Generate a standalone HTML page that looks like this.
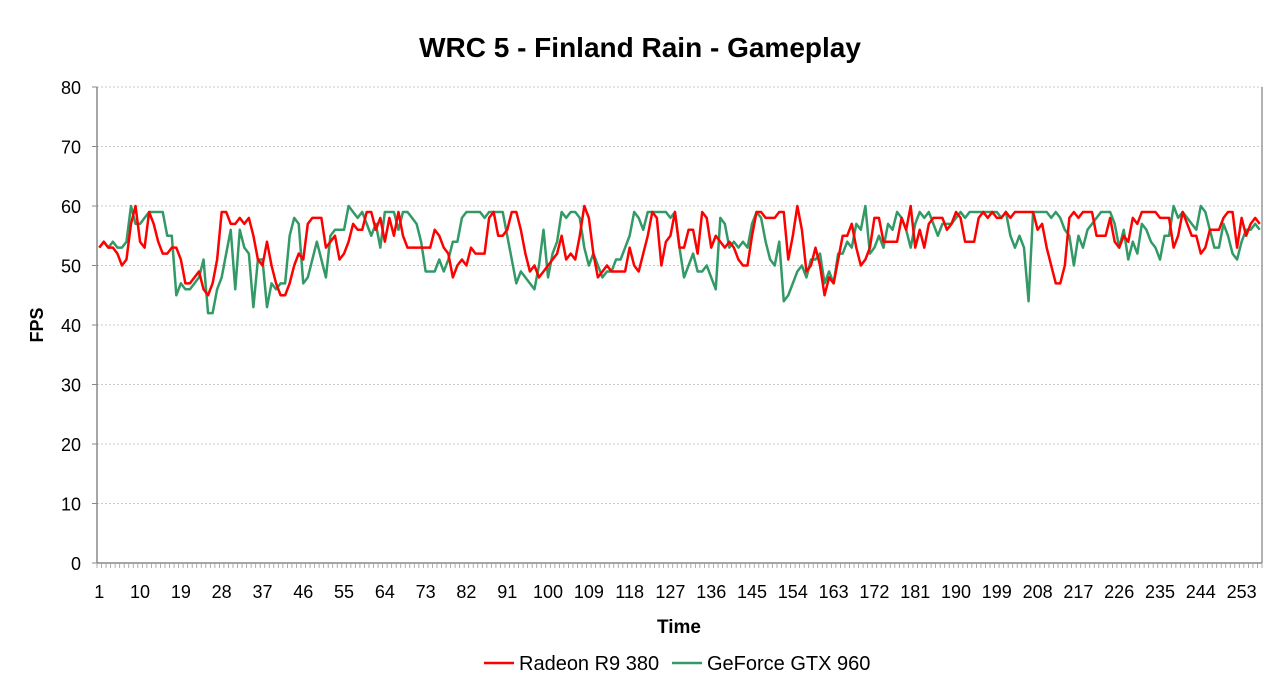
<!DOCTYPE html>
<html><head><meta charset="utf-8"><style>
html,body{margin:0;padding:0;background:#fff;}
svg{display:block;font-family:"Liberation Sans",Arial,sans-serif;}
</style></head><body>
<svg id="chart" width="1280" height="700">
<text x="640" y="57" text-anchor="middle" font-size="28" font-weight="bold">WRC 5 - Finland Rain - Gameplay</text>
<text transform="translate(43,325) rotate(-90)" text-anchor="middle" font-size="18" font-weight="bold">FPS</text>
<text x="679" y="633" text-anchor="middle" font-size="19" font-weight="bold">Time</text>
<g id="grid"></g><g id="yt"></g><g id="xt"></g><g id="series"></g>
<g>
<line x1="484" y1="663" x2="514" y2="663" stroke="#ff0000" stroke-width="2.5"/>
<text x="519" y="670" font-size="20">Radeon R9 380</text>
<line x1="672" y1="663" x2="702" y2="663" stroke="#339966" stroke-width="2.5"/>
<text x="707" y="670" font-size="20">GeForce GTX 960</text>
</g>
</svg>
<script>
const radeon=[53,54,53,53,52,50,51,57,60,54,
53,59,57,54,52,52,53,53,51,
47,47,48,49,46,45,47,51,59,59,
57,57,58,57,58,55,51,50,54,
50,47,45,45,47,50,52,51,57,
58,58,58,53,54,55,51,52,54,
57,56,56,59,59,56,58,54,58,
55,59,55,53,53,53,53,53,53,
56,55,53,52,48,50,51,50,53,
52,52,52,58,59,55,55,56,59,
59,56,52,49,50,48,49,50,51,
52,55,51,52,51,55,60,58,52,
48,49,50,49,49,49,49,53,50,
49,52,55,59,58,50,54,55,59,
53,53,56,56,52,59,58,53,55,
54,53,54,53,51,50,50,55,59,
59,58,58,58,59,59,51,55,60,
56,49,50,53,50,45,48,47,51,
55,55,57,53,50,51,53,58,58,
54,54,54,54,58,56,60,53,56,
53,57,58,58,58,56,57,59,58,
54,54,54,58,59,58,59,58,58,
59,58,59,59,59,59,59,56,57,
53,50,47,47,50,58,59,58,59,
59,59,55,55,55,58,54,53,55,
54,58,57,59,59,59,59,58,58,
58,53,55,59,57,55,55,52,53,
56,56,56,58,59,59,53,58,55,
57,58,57];
const geforce=[53,54,53,54,53,53,54,60,57,57,
58,59,59,59,59,55,55,45,47,
46,46,47,48,51,42,42,46,48,52,
56,46,56,53,52,43,51,51,43,
47,46,47,47,55,58,57,47,48,
51,54,51,48,55,56,56,56,60,
59,58,59,57,55,57,53,59,59,
59,56,59,59,58,57,54,49,49,
49,51,49,51,54,54,58,59,59,
59,59,58,59,59,59,59,55,51,
47,49,48,47,46,50,56,48,52,
54,59,58,59,59,58,53,50,52,
50,48,49,49,51,51,53,55,59,
58,56,59,59,59,59,59,58,59,
53,48,50,52,49,49,50,48,46,
58,57,53,54,53,54,53,57,59,
58,54,51,50,54,44,45,47,49,
50,48,51,51,52,47,49,47,52,
52,54,53,57,56,60,52,53,55,
53,57,56,59,58,56,53,57,59,
58,59,57,55,57,57,57,58,59,
58,59,59,59,59,59,59,59,58,
59,55,53,55,53,44,59,59,59,
59,58,59,58,56,55,50,55,53,
56,57,58,59,59,59,57,53,56,
51,54,52,57,56,54,53,51,55,
55,60,58,59,58,57,56,60,59,
56,53,53,57,55,52,51,54,56,
56,57,56];
const yTicks=[0,10,20,30,40,50,60,70,80];
const xLabelStep=9;

const NS="http://www.w3.org/2000/svg";
const L=97,R=1262,T=87,B=563,YMAX=80;
const N=Math.max(radeon.length,geforce.length);
const bw=(R-L)/N;
const xs=i=>L+(i+0.5)*bw;
const ys=v=>B-(v/YMAX)*(B-T);
function mk(t,a,p){const e=document.createElementNS(NS,t);for(const k in a)e.setAttribute(k,a[k]);p.appendChild(e);return e;}
const grid=document.getElementById('grid'),yt=document.getElementById('yt'),xt=document.getElementById('xt'),ser=document.getElementById('series');
yTicks.forEach(v=>{
 if(v>0){const g=mk('line',{x1:L,x2:R,y1:ys(v),y2:ys(v),stroke:'#c8c8c8','stroke-dasharray':'2,2','stroke-width':1},grid);
 
 }
 const t=mk('text',{x:L-16,y:ys(v)+7,'text-anchor':'end','font-size':18},yt);t.textContent=v;
 
 
 mk('line',{x1:L-5,x2:L,y1:ys(v),y2:ys(v),stroke:'#888'},yt);
});
const ax=mk('line',{x1:L,x2:L,y1:T,y2:B,stroke:'#888','stroke-width':1.5},grid);


mk('line',{x1:R,x2:R,y1:T,y2:B,stroke:'#999','stroke-width':1.5},grid);
const xa=mk('line',{x1:L,x2:R,y1:B,y2:B,stroke:'#888','stroke-width':1.5},grid);


for(let i=0;i<=N;i++){mk('line',{x1:L+i*bw,x2:L+i*bw,y1:B,y2:B+5,stroke:'#999','stroke-width':0.8},xt);}
for(let i=0;i<N;i+=xLabelStep){const t=mk('text',{x:xs(i),y:B+35,'text-anchor':'middle','font-size':18},xt);t.textContent=i+1;
 
 }
function line(arr,col,name){const p=mk('polyline',{points:arr.map((v,i)=>xs(i).toFixed(2)+','+ys(v).toFixed(2)).join(' '),fill:'none',stroke:col,'stroke-width':2.5,'stroke-linejoin':'round'},ser);
 
 }
line(geforce,'#339966','series-geforce-gtx-960');
line(radeon,'#ff0000','series-radeon-r9-380');
</script>
</body></html>
